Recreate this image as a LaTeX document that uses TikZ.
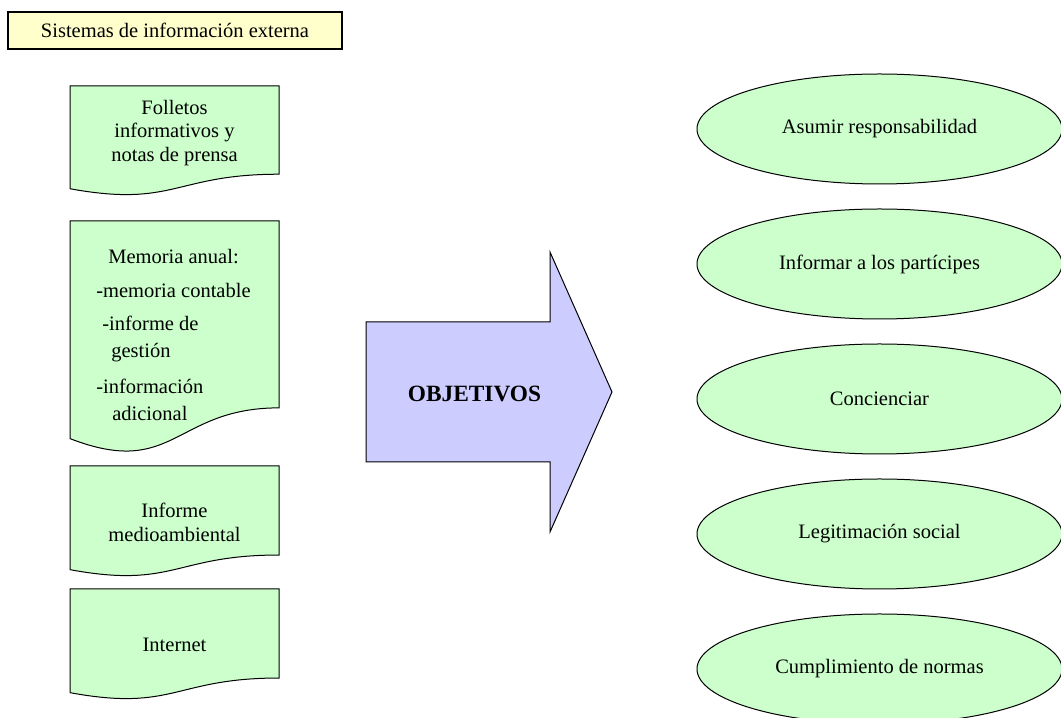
\documentclass[tikz,border=0pt]{standalone}
\usepackage{fontspec}
\setmainfont{Liberation Serif}
\usepackage{xcolor}
\usepackage{tikz}
\usetikzlibrary{shapes,arrows,positioning,calc}

\definecolor{docgreen}{RGB}{204,255,204}
\definecolor{notecream}{RGB}{255,255,204}
\definecolor{arrowlilac}{RGB}{204,204,255}

\begin{document}
\begin{tikzpicture}[x=0.6pt, y=-0.6pt, node distance=14.4pt,
    txt/.style={font=\fontsize{12.3}{14.3}\selectfont, inner sep=0pt, align=center},
    doc/.style={draw, line width=0.6pt, fill=docgreen},
    goal/.style={ellipse, draw, line width=0.6pt, fill=docgreen, minimum width=219pt, minimum height=66pt, inner sep=0pt, font=\fontsize{12.3}{14}\selectfont}]
    \useasboundingbox (0,0) rectangle (1061,718);

    % Title box
    \node[draw, line width=0.8pt, fill=notecream, minimum width=200.4pt, minimum height=22.2pt, font=\fontsize{12.3}{14}\selectfont] (title) at (175,30.5) {Sistemas de información externa};

    % Document sheets (top / height)
    \foreach \ytop/\h in {86/110, 221/233, 466/111, 589/111}
        \draw[doc] (70,\ytop) -- (279,\ytop) -- (279,\ytop+0.802*\h)
            .. controls (174.5,\ytop+0.802*\h) and (174.5,\ytop+1.1075*\h) .. (70,\ytop+0.934*\h) -- cycle;

    \node[txt] (folletos) at (174.5,133) {Folletos\\informativos y\\notas de prensa};
    \node[txt, align=left, anchor=north west, font=\fontsize{12.3}{16.2}\selectfont] (memoria) at (96,249)
        {\hspace*{7.2pt}Memoria anual:\\[4.2pt] -memoria contable\\[3.6pt] \hspace*{3.6pt}-informe de\\ \hspace*{9pt}gestión\\[5.4pt] -información\\ \hspace*{9.6pt}adicional};
    \node[txt] (informe) at (174.5,522) {Informe\\medioambiental};
    \node[txt] (internet) at (174.5,645) {Internet};

    % Big arrow
    \draw[line width=0.6pt, fill=arrowlilac] (366,322) -- (550,322) -- (550,252) -- (612,392) -- (550,532) -- (550,462) -- (366,462) -- cycle;
    \node[font=\fontsize{14}{17}\selectfont\bfseries] (objetivos) at (474.5,394) {OBJETIVOS};

    % Goals
    \node[goal] (g1) at (879.5,129) {Asumir responsabilidad};
    \node[goal, below=of g1] (g2) {Informar a los partícipes};
    \node[goal, below=of g2] (g3) {Concienciar};
    \node[goal, below=of g3] (g4) {Legitimación social};
    \node[goal, below=of g4] (g5) {Cumplimiento de normas};
\end{tikzpicture}
\end{document}
